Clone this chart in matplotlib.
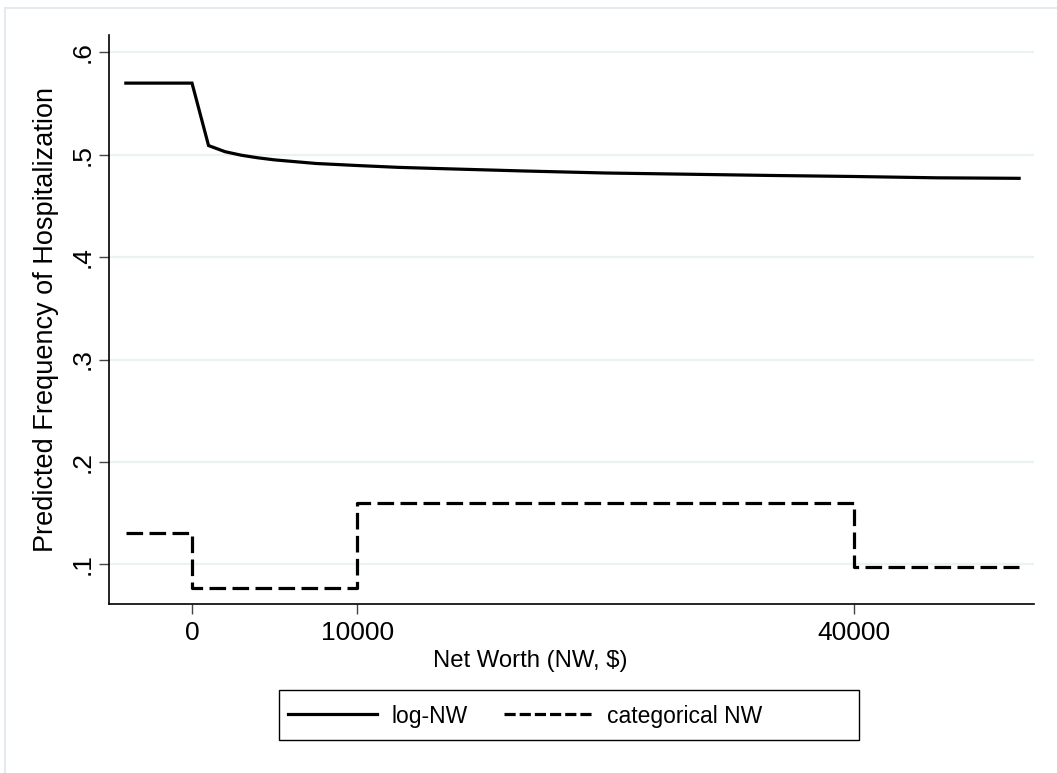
import matplotlib
matplotlib.use("Agg")
import matplotlib.pyplot as plt
from matplotlib.patches import Rectangle
from matplotlib.lines import Line2D

plt.rcParams['font.family'] = ['Liberation Sans', 'DejaVu Sans']

# Data
nw_log = [-4000, 0, 1000, 2000, 3000, 4000, 5000, 7500, 10000, 12500, 15000,
          20000, 25000, 30000, 35000, 40000, 45000, 50000]
freq_log = [0.570, 0.570, 0.509, 0.503, 0.4995, 0.497, 0.495, 0.4915, 0.4895,
            0.4877, 0.4865, 0.4842, 0.4822, 0.4810, 0.4798, 0.4788, 0.4775, 0.4770]

cat_edges = [-4000, 0, 10000, 40000, 50000]
cat_values = [0.131, 0.077, 0.160, 0.097]

series_labels = ["log-NW", "categorical NW"]
xticks = [0, 10000, 40000]
xtick_labels = ["0", "10000", "40000"]
yticks = [0.1, 0.2, 0.3, 0.4, 0.5, 0.6]
ytick_labels = [".1", ".2", ".3", ".4", ".5", ".6"]

W, H = 1057, 773
fig = plt.figure(figsize=(W / 100, H / 100), dpi=100)
fig.patch.set_facecolor("white")

# light outer frame (left/top visible)
fig.add_artist(Rectangle((5 / W, -0.05), 1.2, 1 - 8 / H + 0.05,
                         transform=fig.transFigure, fill=False,
                         edgecolor="#e6eaee", linewidth=1.5))

ax_left, ax_right, ax_top, ax_bottom = 109, 1034, 35, 604
ax = fig.add_axes([ax_left / W, (H - ax_bottom) / H,
                   (ax_right - ax_left) / W, (ax_bottom - ax_top) / H])
ax.set_facecolor("white")

for y in yticks:
    ax.axhline(y, color="#eaf2f3", linewidth=1.6, zorder=0)

ax.plot(nw_log, freq_log, color="black", linewidth=2.3, solid_joinstyle="miter")

sx = []
sy = []
for i, v in enumerate(cat_values):
    sx += [cat_edges[i], cat_edges[i + 1]]
    sy += [v, v]
ax.plot(sx, sy, color="black", linewidth=2.3, linestyle=(0, (5.2, 2.0)))

ax.set_xlim(-5018, 50900)
ax.set_ylim(0.0612, 0.617)

ax.spines["top"].set_visible(False)
ax.spines["right"].set_visible(False)
ax.spines["left"].set_linewidth(1.2)
ax.spines["bottom"].set_linewidth(1.2)

ax.set_xticks(xticks)
ax.set_xticklabels(xtick_labels)
ax.set_yticks(yticks)
ax.set_yticklabels(ytick_labels, rotation=90, va="center")
ax.tick_params(axis="both", length=7.5, width=1.0, color="#444444",
               labelsize=19)
ax.tick_params(axis="x", pad=5)
ax.tick_params(axis="y", pad=3)

# axis titles
fig.text(530 / W, 1 - 661 / H, "Net Worth (NW, $)", fontsize=17.2,
         ha="center", va="center")
ax.set_ylabel("Predicted Frequency of Hospitalization", fontsize=19.5, va="center")
ax.yaxis.set_label_coords((46 - ax_left) / (ax_right - ax_left), 0.5)

# legend: custom frame, content left aligned
fig.add_artist(Rectangle((279 / W, 1 - 740 / H), (859 - 279) / W, 50 / H,
                         transform=fig.transFigure, fill=False,
                         edgecolor="black", linewidth=1.0))
handles = [Line2D([], [], color="black", linewidth=2.3),
           Line2D([], [], color="black", linewidth=2.3, linestyle=(0, (3.5, 1.25)))]
fig.legend(handles, series_labels, loc="center left",
           bbox_to_anchor=(288 / W, 1 - 716 / H), ncol=2,
           fontsize=16.5, frameon=False, borderpad=0, borderaxespad=0,
           handlelength=3.9, handletextpad=0.6, columnspacing=1.6)

fig.savefig("out.png", dpi=100, facecolor="white")
